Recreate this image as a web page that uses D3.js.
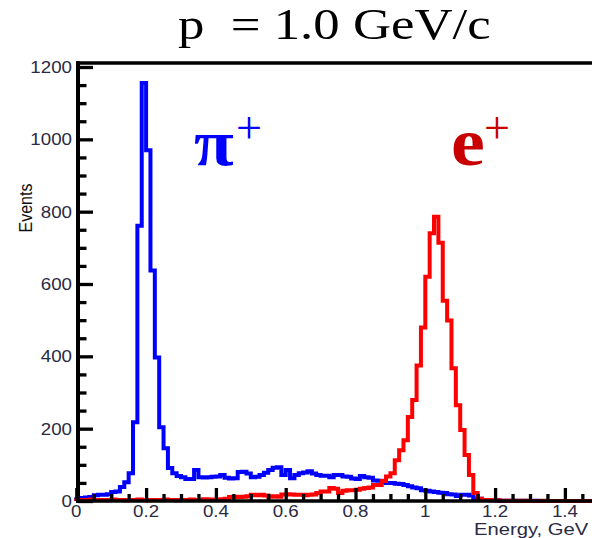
<!DOCTYPE html>
<html><head><meta charset="utf-8">
<script src="https://cdn.jsdelivr.net/npm/d3@7"></script>
<style>body{margin:0;background:#fff}svg{display:block}</style>
</head><body>
<svg id="chart" width="592" height="538"></svg>
<script>
// ---- data ----
const binWidth = 0.0125; // GeV, bins from 0 to 1.5
const pionCounts = [
  5, 8, 10, 11, 16, 17, 17, 19, 25, 26,
  39, 52, 77, 218, 761, 1156, 970, 637, 397, 204,
  146, 91, 77, 69, 66, 61, 61, 86, 66, 65,
  66, 67, 68, 72, 64, 62, 63, 80, 81, 76,
  66, 67, 72, 78, 86, 92, 93, 72, 86, 63,
  72, 77, 79, 82, 76, 72, 70, 70, 66, 72,
  72, 68, 67, 62, 61, 69, 66, 64, 57, 56,
  51, 50, 50, 48, 47, 44, 41, 37, 35, 30,
  28, 26, 25, 23, 22, 19, 18, 14, 17, 17,
  15, 7, 6, 3, 3, 2, 2, 1, 1, 1,
  1, 0, 1, 0, 0, 1, 0, 0, 0, 0,
  0, 0, 0, 0, 0, 0, 0, 0, 0, 0
];
const positronCounts = [
  2, 3, 3, 4, 3, 3, 2, 3, 4, 3,
  3, 2, 3, 3, 4, 3, 2, 3, 3, 3,
  4, 3, 3, 2, 3, 3, 4, 3, 3, 5,
  4, 3, 4, 5, 6, 11, 12, 11, 12, 13,
  17, 16, 17, 15, 12, 13, 12, 18, 19, 18,
  17, 17, 16, 17, 18, 22, 26, 26, 36, 34,
  22, 28, 30, 30, 31, 34, 36, 37, 44, 44,
  55, 68, 77, 113, 140, 168, 232, 279, 375, 480,
  620, 740, 786, 714, 554, 499, 367, 265, 196, 127,
  72, 22, 6, 3, 3, 2, 2, 1, 1, 1,
  1, 1, 0, 1, 0, 0, 0, 1, 0, 0,
  0, 0, 0, 0, 0, 0, 0, 0, 0, 0
];
const xMajorTicks = [0, 0.2, 0.4, 0.6, 0.8, 1.0, 1.2, 1.4];
const xTickLabels = ["0", "0.2", "0.4", "0.6", "0.8", "1", "1.2", "1.4"];
const yMajorTicks = [0, 200, 400, 600, 800, 1000, 1200];
const yTickLabels = ["0", "200", "400", "600", "800", "1000", "1200"];
const titleText = "p  = 1.0 GeV/c";
const xTitle = "Energy, GeV";
const yTitle = "Events";

// ---- layout ----
const svg = d3.select("#chart");
const x = d3.scaleLinear().domain([0, 1.5]).range([76.3, 76.3 + 1.5 * 349]);
const y = d3.scaleLinear().domain([0, 1200]).range([501, 67]);
const yTop = 63;
const stretch = 1.17;
const labelColor = "#2a2a44";

svg.append("rect").attr("width", 592).attr("height", 538).attr("fill", "#fff");

// ---- histograms ----
function stepPoints(counts) {
  const pts = [[x(0), y(0)]];
  counts.forEach((c, i) => {
    pts.push([x(i * binWidth), y(c)], [x((i + 1) * binWidth), y(c)]);
  });
  return pts;
}
const line = d3.line();
svg.append("path").attr("d", line(stepPoints(pionCounts)))
  .attr("fill", "none").attr("stroke", "#0000ff").attr("stroke-width", 4)
  .attr("stroke-linejoin", "miter");
svg.append("path").attr("d", line(stepPoints(positronCounts)))
  .attr("fill", "none").attr("stroke", "#ff0000").attr("stroke-width", 4)
  .attr("stroke-linejoin", "miter");

// ---- axes ----
const axisG = svg.append("g");
const xMinor = d3.range(0, 1.5001, 0.05).filter(v => Math.abs(Math.round(v * 5) - v * 5) > 1e-6);
const yMinor = d3.range(0, 1201, 50).filter(v => v % 200 !== 0);

const xAxisMajor = d3.axisBottom(x).tickValues(xMajorTicks).tickSize(-13).tickSizeOuter(0).tickFormat("");
const xAxisMinor = d3.axisBottom(x).tickValues(xMinor).tickSize(-7).tickSizeOuter(0).tickFormat("");
const yAxisMajor = d3.axisLeft(y).tickValues(yMajorTicks).tickSize(-15).tickSizeOuter(0).tickFormat("");
const yAxisMinor = d3.axisLeft(y).tickValues(yMinor).tickSize(-8.5).tickSizeOuter(0).tickFormat("");

[[xAxisMajor, `translate(0,${y(0)})`], [xAxisMinor, `translate(0,${y(0)})`],
 [yAxisMajor, `translate(78,0)`], [yAxisMinor, `translate(78,0)`]].forEach(([ax, tr]) => {
  const g = axisG.append("g").attr("transform", tr).call(ax);
  g.select(".domain").remove();
  g.selectAll(".tick line").attr("stroke", "#000").attr("stroke-width", 3.3);
});

// frame lines
axisG.append("line").attr("x1", 76).attr("x2", 600).attr("y1", y(0)).attr("y2", y(0))
  .attr("stroke", "#000").attr("stroke-width", 3.5);
axisG.append("line").attr("x1", 78).attr("x2", 78).attr("y1", yTop - 1.7).attr("y2", y(0) + 1.7)
  .attr("stroke", "#000").attr("stroke-width", 4);
axisG.append("line").attr("x1", 76).attr("x2", 600).attr("y1", yTop).attr("y2", yTop)
  .attr("stroke", "#000").attr("stroke-width", 3.3);

// tick labels
const font = "'Liberation Sans', Arial, sans-serif";
svg.append("g").selectAll("text").data(xMajorTicks).join("text")
  .attr("transform", d => `translate(${x(d)},517) scale(${stretch},1)`)
  .attr("text-anchor", "middle").attr("font-family", font).attr("font-size", 16)
  .attr("fill", labelColor).text((d, i) => xTickLabels[i]);
svg.append("g").selectAll("text").data(yMajorTicks).join("text")
  .attr("transform", d => `translate(72,${y(d) + 6}) scale(${stretch},1)`)
  .attr("text-anchor", "end").attr("font-family", font).attr("font-size", 16)
  .attr("fill", labelColor).text((d, i) => yTickLabels[i]);

// axis titles
svg.append("text").attr("transform", `translate(474,535) scale(${stretch},1)`)
  .attr("font-family", font).attr("font-size", 17.3).attr("fill", labelColor).text(xTitle);
svg.append("text").attr("transform", `translate(32,208) rotate(-90) scale(1,${stretch})`)
  .attr("text-anchor", "middle").attr("font-family", font).attr("font-size", 16)
  .attr("fill", "#111").text(yTitle);

// title
const serif = "'Liberation Serif', 'Times New Roman', serif";
svg.append("text").attr("transform", `translate(178,39) scale(1.2,1)`)
  .attr("font-family", serif).attr("font-size", 44).attr("fill", "#000")
  .style("white-space", "pre").text(titleText);

// particle labels
svg.append("text").attr("transform", `translate(194,165) scale(1.1,1)`)
  .attr("font-family", serif).attr("font-size", 66).attr("font-weight", "bold")
  .attr("fill", "#0000ff").text("π");
svg.append("text").attr("transform", `translate(236,143)`)
  .attr("font-family", serif).attr("font-size", 46).attr("fill", "#0000ff").text("+");
svg.append("text").attr("transform", `translate(451,165) scale(1.12,1)`)
  .attr("font-family", serif).attr("font-size", 68).attr("font-weight", "bold")
  .attr("fill", "#c80000").text("e");
svg.append("text").attr("transform", `translate(484,143)`)
  .attr("font-family", serif).attr("font-size", 46).attr("fill", "#c80000").text("+");
</script>
</body></html>
